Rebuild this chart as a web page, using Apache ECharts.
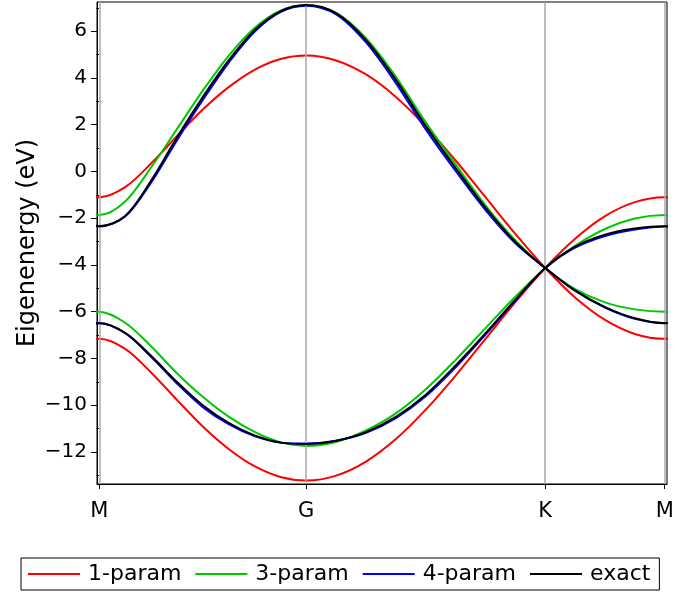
<!DOCTYPE html>
<html>
<head>
<meta charset="utf-8">
<title>Eigenenergy bands</title>
<script src="https://cdn.jsdelivr.net/npm/echarts@6/dist/echarts.min.js"></script>
<style>
	html,body{margin:0;padding:0;background:#fff;}
	#chart{width:696px;height:597px;}
</style>
</head>
<body>
<div id="chart"></div>
<script>
// path positions (M-G = 1, G-K = 2/sqrt3, K-M = 1/sqrt3)
var kPath = [0, 0.125, 0.25, 0.375, 0.5, 0.625, 0.75, 0.875, 1,
	1.1443, 1.2887, 1.4330, 1.5774, 1.7217, 1.8660, 2.0104, 2.1547,
	2.2990, 2.4434, 2.5877, 2.7321];
var kTicks = [0, 1, 2.1547, 2.7321];
var kLabels = ['M', 'G', 'K', 'M'];
var eTicks = [-12, -10, -8, -6, -4, -2, 0, 2, 4, 6];
var eMinor = [-13, -11, -9, -7, -5, -3, -1, 1, 3, 5, 7];

// each band read along the path; band A and band B cross straight through K
var oneA = [-1.10, -0.67, 0.34, 1.51, 2.65, 3.61, 4.35, 4.81, 4.96, 4.75, 4.15, 3.19, 1.93, 0.47, -1.10, -2.67, -4.13, -5.39, -6.35, -6.95, -7.16];
var oneB = [-7.16, -7.59, -8.60, -9.77, -10.91, -11.87, -12.61, -13.07, -13.22, -13.01, -12.41, -11.45, -10.19, -8.73, -7.16, -5.59, -4.13, -2.88, -1.91, -1.31, -1.10];
var threeA = [-1.86, -1.28, 0.17, 1.81, 3.46, 4.95, 6.14, 6.88, 7.11, 6.78, 5.70, 4.05, 2.10, 0.30, -1.45, -2.95, -4.14, -5.03, -5.60, -5.90, -6.00];
var threeB = [-6.00, -6.47, -7.48, -8.63, -9.64, -10.49, -11.14, -11.58, -11.74, -11.57, -11.08, -10.35, -9.32, -8.06, -6.70, -5.36, -4.14, -3.18, -2.46, -2.01, -1.86];
var fourA = [-2.35, -1.93, -0.48, 1.33, 3.06, 4.65, 5.98, 6.82, 7.09, 6.72, 5.52, 3.78, 1.80, 0.02, -1.65, -3.07, -4.13, -5.10, -5.82, -6.30, -6.48];
var fourB = [-6.48, -6.92, -7.93, -9.07, -10.08, -10.81, -11.32, -11.60, -11.64, -11.52, -11.18, -10.55, -9.62, -8.38, -6.98, -5.52, -4.13, -3.26, -2.76, -2.48, -2.35];
var exactA = [-2.34, -1.90, -0.40, 1.45, 3.18, 4.75, 6.04, 6.85, 7.12, 6.77, 5.62, 3.92, 1.95, 0.15, -1.55, -3.02, -4.13, -5.10, -5.80, -6.28, -6.49];
var exactB = [-6.49, -6.90, -7.88, -9.00, -10.00, -10.75, -11.29, -11.60, -11.66, -11.52, -11.15, -10.50, -9.55, -8.30, -6.92, -5.48, -4.13, -3.22, -2.70, -2.44, -2.34];

var models = [
	{name: '1-param', color: '#ff0000', bands: [oneA, oneB]},
	{name: '3-param', color: '#00c800', bands: [threeA, threeB]},
	{name: '4-param', color: '#0000ff', bands: [fourA, fourB]},
	{name: 'exact', color: '#000000', bands: [exactA, exactB]}
];

var font = 'DejaVu Sans';

// bands are mirror symmetric at M, so the neighbour is repeated outside the
// plot (clipped) to give the spline a flat start and end
function pairs(ys){
	var n = ys.length;
	var out = [[-kPath[1], ys[1]]];
	for (var i = 0; i < n; i++) {
		out.push([kPath[i], ys[i]]);
	}
	out.push([2 * kPath[n - 1] - kPath[n - 2], ys[n - 2]]);
	return out;
}

var series = [];
// gray lines at the symmetry points
series.push({
	type: 'line',
	data: [],
	silent: true,
	z: 1,
	markLine: {
		silent: true,
		symbol: 'none',
		animation: false,
		label: {show: false},
		lineStyle: {color: '#a8a8a8', width: 1.5, type: 'solid'},
		emphasis: {disabled: true},
		data: kTicks.map(function(v){ return {xAxis: v}; })
	}
});
for (var m = 0; m < models.length; m++) {
	for (var b = 0; b < 2; b++) {
		series.push({
			name: models[m].name,
			type: 'line',
			data: pairs(models[m].bands[b]),
			smooth: 0.33,
			clip: true,
			symbol: 'none',
			z: 2 + m,
			lineStyle: {color: models[m].color, width: 2},
			itemStyle: {color: models[m].color},
			emphasis: {disabled: true}
		});
	}
}

var chart = echarts.init(document.getElementById('chart'));
chart.setOption({
	animation: false,
	grid: {left: 97, right: 29, top: 2, bottom: 113, show: true, borderColor: '#000', borderWidth: 1},
	xAxis: {
		type: 'value',
		min: -0.011,
		max: 2.743,
		axisLine: {show: true, onZero: false, lineStyle: {color: '#000', width: 1}},
		axisTick: {show: true, customValues: kTicks, length: 5, lineStyle: {color: '#000'}},
		axisLabel: {
			customValues: kTicks,
			margin: 17,
			color: '#000',
			fontFamily: font,
			fontSize: 21,
			formatter: function(v){
				for (var i = 0; i < kTicks.length; i++) {
					if (Math.abs(kTicks[i] - v) < 1e-3) return kLabels[i];
				}
				return '';
			}
		},
		splitLine: {show: false}
	},
	yAxis: [{
		type: 'value',
		min: -13.37,
		max: 7.25,
		name: 'Eigenenergy (eV)',
		nameLocation: 'middle',
		nameGap: 57,
		nameMoveOverlap: false,
		nameTextStyle: {color: '#000', fontFamily: font, fontSize: 24},
		axisLine: {show: true, onZero: false, lineStyle: {color: '#000', width: 1}},
		axisTick: {show: true, customValues: eTicks, length: 6, lineStyle: {color: '#000'}},
		axisLabel: {
			customValues: eTicks,
			margin: 10,
			color: '#000',
			fontFamily: font,
			fontSize: 20,
			formatter: function(v){ return String(v).replace('-', '\u2212'); }
		},
		splitLine: {show: false}
	}, {
		type: 'value',
		min: -13.37,
		max: 7.25,
		position: 'left',
		axisLine: {show: false},
		axisTick: {show: true, customValues: eMinor, length: 3, lineStyle: {color: '#000'}},
		axisLabel: {show: false},
		splitLine: {show: false}
	}],
	legend: {
		data: models.map(function(d){ return d.name; }),
		left: 21,
		top: 558,
		orient: 'horizontal',
		icon: 'rect',
		itemWidth: 52,
		itemHeight: 2,
		itemGap: 14,
		padding: [5, 9, 5, 7],
		borderColor: '#000',
		borderWidth: 1,
		borderRadius: 0,
		selectedMode: false,
		textStyle: {color: '#000', fontFamily: font, fontSize: 22, padding: [0, 0, 0, 3]}
	},
	series: series
});
</script>
</body>
</html>
